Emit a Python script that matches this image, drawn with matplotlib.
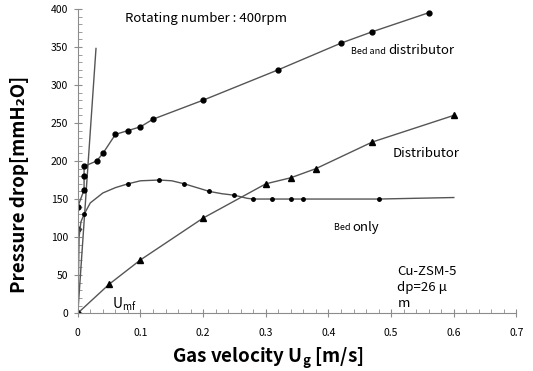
import matplotlib.pyplot as plt
from matplotlib.ticker import MultipleLocator

plt.rcParams['font.family'] = ['Noto Sans CJK KR', 'DejaVu Sans']
plt.rcParams['mathtext.fontset'] = 'custom'
plt.rcParams['mathtext.rm'] = 'Noto Sans CJK KR'
plt.rcParams['mathtext.bf'] = 'Noto Sans CJK KR:bold'

# bed and distributor (circles)
bd_x = [0, 0, 0, 0.01, 0.01, 0.01, 0.03, 0.04, 0.06, 0.08, 0.10, 0.12, 0.20, 0.32, 0.42, 0.47, 0.56]
bd_y = [0, 110, 140, 162, 180, 193, 200, 210, 235, 240, 245, 255, 280, 320, 355, 370, 395]

# bed only (small dots) and the drawn curve through them
bed_x = [0, 0.01, 0.08, 0.13, 0.17, 0.21, 0.25, 0.28, 0.31, 0.34, 0.36, 0.48]
bed_y = [0, 130, 170, 175, 170, 160, 155, 150, 150, 150, 150, 150]
bed_curve_x = [0, 0.002, 0.005, 0.01, 0.02, 0.04, 0.06, 0.08, 0.10, 0.13, 0.15, 0.17,
               0.19, 0.21, 0.23, 0.25, 0.27, 0.28, 0.36, 0.48, 0.60]
bed_curve_y = [0, 100, 120, 130, 145, 158, 165, 170, 174, 175, 174, 170,
               165, 160, 157, 155, 151, 150, 150, 150, 152]

# distributor (triangles)
dist_x = [0, 0.05, 0.10, 0.20, 0.30, 0.34, 0.38, 0.47, 0.60]
dist_y = [0, 38, 70, 125, 170, 178, 190, 225, 260]

# minimum fluidization line
umf_x = [0, 0.029]
umf_y = [0, 348]

line_c = '#555555'
axis_c = '#8c8c8c'

fig = plt.figure(figsize=(5.33, 3.71), dpi=100)
ax = fig.add_axes([0.146, 0.156, 0.823, 0.820])

ax.plot(umf_x, umf_y, color=line_c, lw=1)
ax.plot(bd_x, bd_y, color=line_c, lw=1, marker='o', ms=3.5, mfc='black', mec='black')
ax.plot(bed_curve_x, bed_curve_y, color=line_c, lw=1)
ax.plot(bed_x, bed_y, ls='none', marker='o', ms=2.5, mfc='black', mec='black')
ax.plot(dist_x, dist_y, color=line_c, lw=1, marker='^', ms=4, mfc='black', mec='black')

ax.set_xlim(0, 0.7)
ax.set_ylim(0, 400)
ax.set_xticks([0, 0.1, 0.2, 0.3, 0.4, 0.5, 0.6, 0.7])
ax.set_xticklabels(['0', '0.1', '0.2', '0.3', '0.4', '0.5', '0.6', '0.7'])
ax.xaxis.set_minor_locator(MultipleLocator(0.02))
ax.yaxis.set_major_locator(MultipleLocator(50))
ax.yaxis.set_minor_locator(MultipleLocator(10))

for s in ['top', 'right']:
    ax.spines[s].set_visible(False)
for s in ['left', 'bottom']:
    ax.spines[s].set_color(axis_c)
ax.tick_params(which='major', direction='inout', length=6, color=axis_c, labelsize=7.5)
ax.tick_params(axis='x', which='major', pad=8)
ax.tick_params(axis='y', which='major', pad=4)
ax.tick_params(which='minor', direction='in', length=3, color=axis_c)

ax.set_ylabel('Pressure drop[mmH₂O]', fontsize=13.5, fontweight='bold')
ax.set_xlabel(r'Gas velocity $\mathbf{U_g}$ [m/s]', fontsize=13.5, fontweight='bold')
ax.yaxis.set_label_coords(-0.133, 0.424)
ax.xaxis.set_label_coords(0.432, -0.148)
ax.yaxis.label.set_va('center')
ax.xaxis.label.set_va('center')

ax.text(0.075, 387, 'Rotating number : 400rpm', fontsize=9.5, va='center')
ax.text(0.495, 344, 'Bed and ', fontsize=6.5, va='center', ha='right')
ax.text(0.495, 345, 'distributor', fontsize=9.5, va='center')
ax.text(0.502, 210, 'Distributor', fontsize=9.5, va='center')
ax.text(0.438, 112, 'Bed ', fontsize=6.5, va='center', ha='right')
ax.text(0.438, 113, 'only', fontsize=9.5, va='center')
ax.text(0.51, 34, 'Cu-ZSM-5\ndp=26 μ\nm', fontsize=9.5, va='center', linespacing=1.3)
ax.text(0.054, 12, r'U$_{\mathrm{mf}}$', fontsize=10, va='center')

fig.savefig('out.png', dpi=100)
